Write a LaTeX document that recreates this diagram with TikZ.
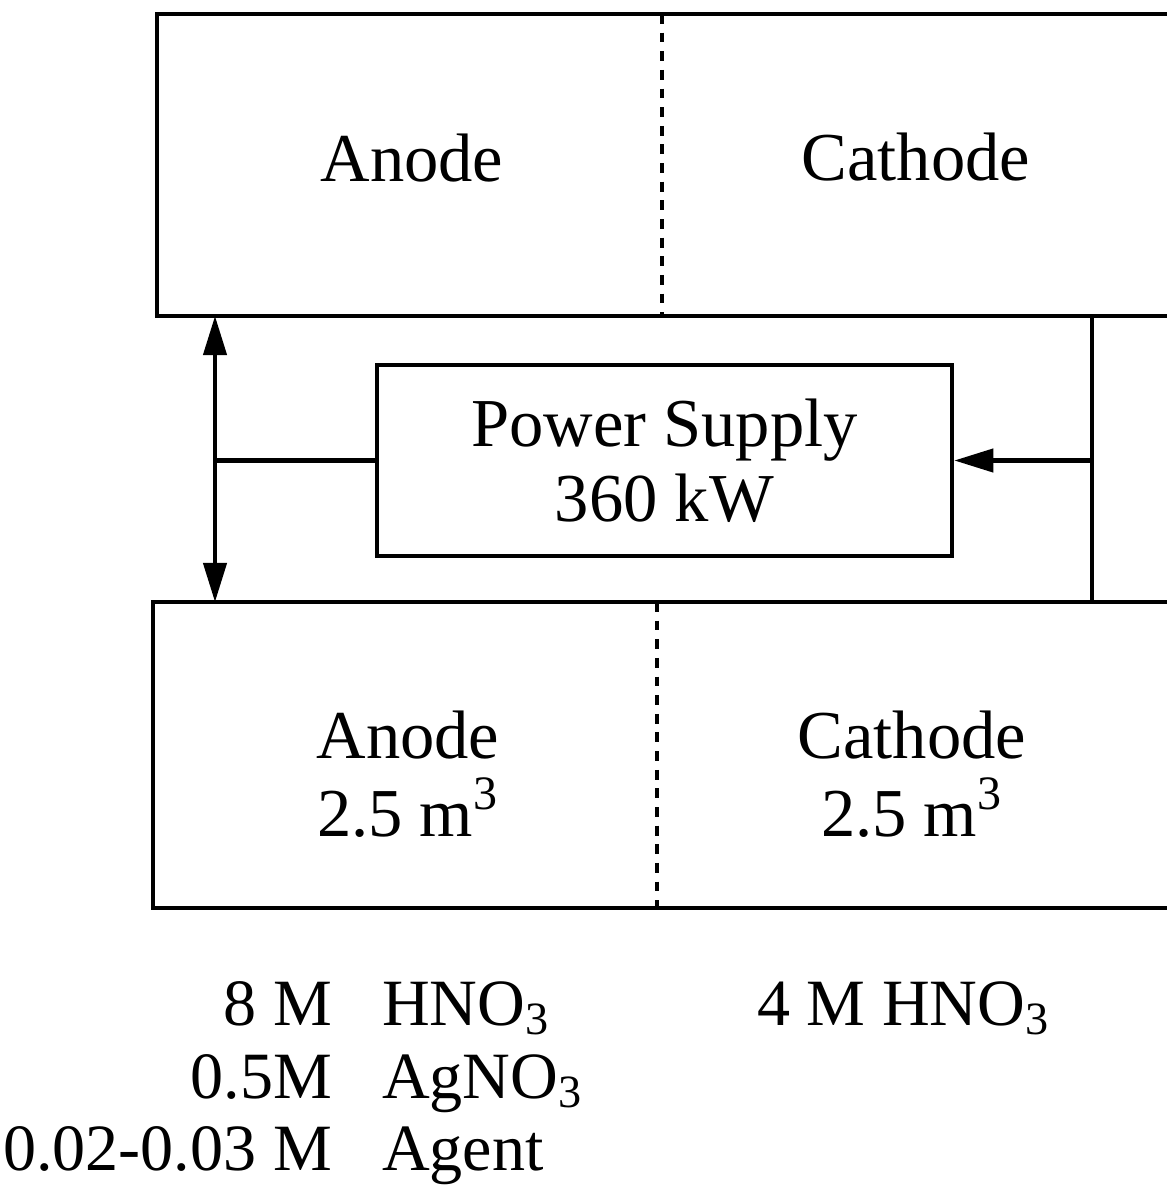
\documentclass[tikz,border=0pt]{standalone}
\usepackage{fontspec}
\setmainfont{Liberation Serif}
\usepackage{tikz}
\usetikzlibrary{arrows.meta,positioning}

\begin{document}
\begin{tikzpicture}[x=0.01cm,y=-0.01cm,line width=1.2pt,>={Triangle[length=3.9mm,width=2.3mm]},
  txt/.style={font=\fontsize{19.5}{21.3}\selectfont,inner sep=0pt},
  sol/.style={font=\fontsize{18.8}{21}\selectfont,inner sep=0pt},
  wall/.style={line width=0.9pt,dash pattern=on 2.8pt off 2.5pt}]
\useasboundingbox(0,0)rectangle(1167,1188);
% cells
\draw(1167,14)--(157,14)--(157,316)--(1167,316);
\draw(1167,602)--(153,602)--(153,908)--(1167,908);
\draw[wall](662,14)--(662,316);
\draw[wall](657,602)--(657,908);
\node[txt,anchor=base](anodeT)at(412,182){Anode};
\node[txt,anchor=base](cathodeT)at(916,180){Cathode};
\node[txt,anchor=base](anodeB)at(408,758){Anode};
\node[txt,anchor=base](volA)at(408,836){2.5 m\textsuperscript{3}};
\node[txt,anchor=base](cathodeB)at(912,758){Cathode};
\node[txt,anchor=base](volC)at(912,836){2.5 m\textsuperscript{3}};
% power supply
\node[draw,txt,align=center,minimum width=5.75cm,minimum height=1.91cm](ps)at(664.5,460.5){Power Supply\\360 kW};
\coordinate(lt)at(215,316);\coordinate(lb)at(215,602);\coordinate(lj)at(215,460.5);
\coordinate(rt)at(1092,316);\coordinate(rb)at(1092,602);\coordinate(rj)at(1092,460.5);
\draw[<->](lt)--(lb);
\draw(lj)--(ps.west);
\draw(rt)--(rb);
\draw[->](rj)--(ps.east);
% solutions
\node[sol,anchor=base east](cHNO)at(334,1025){8 M};
\node[sol,anchor=base east](cAg)at(334,1098){0.5M};
\node[sol,anchor=base east](cAgent)at(334,1170){0.02-0.03 M};
\node[sol,anchor=base west](sHNO)at(380,1025){HNO\textsubscript{3}};
\node[sol,anchor=base west](sAg)at(380,1098){AgNO\textsubscript{3}};
\node[sol,anchor=base west](sAgent)at(380,1170){Agent};
\node[sol,anchor=base west](catHNO)at(755,1025){4 M HNO\textsubscript{3}};
\end{tikzpicture}
\end{document}
